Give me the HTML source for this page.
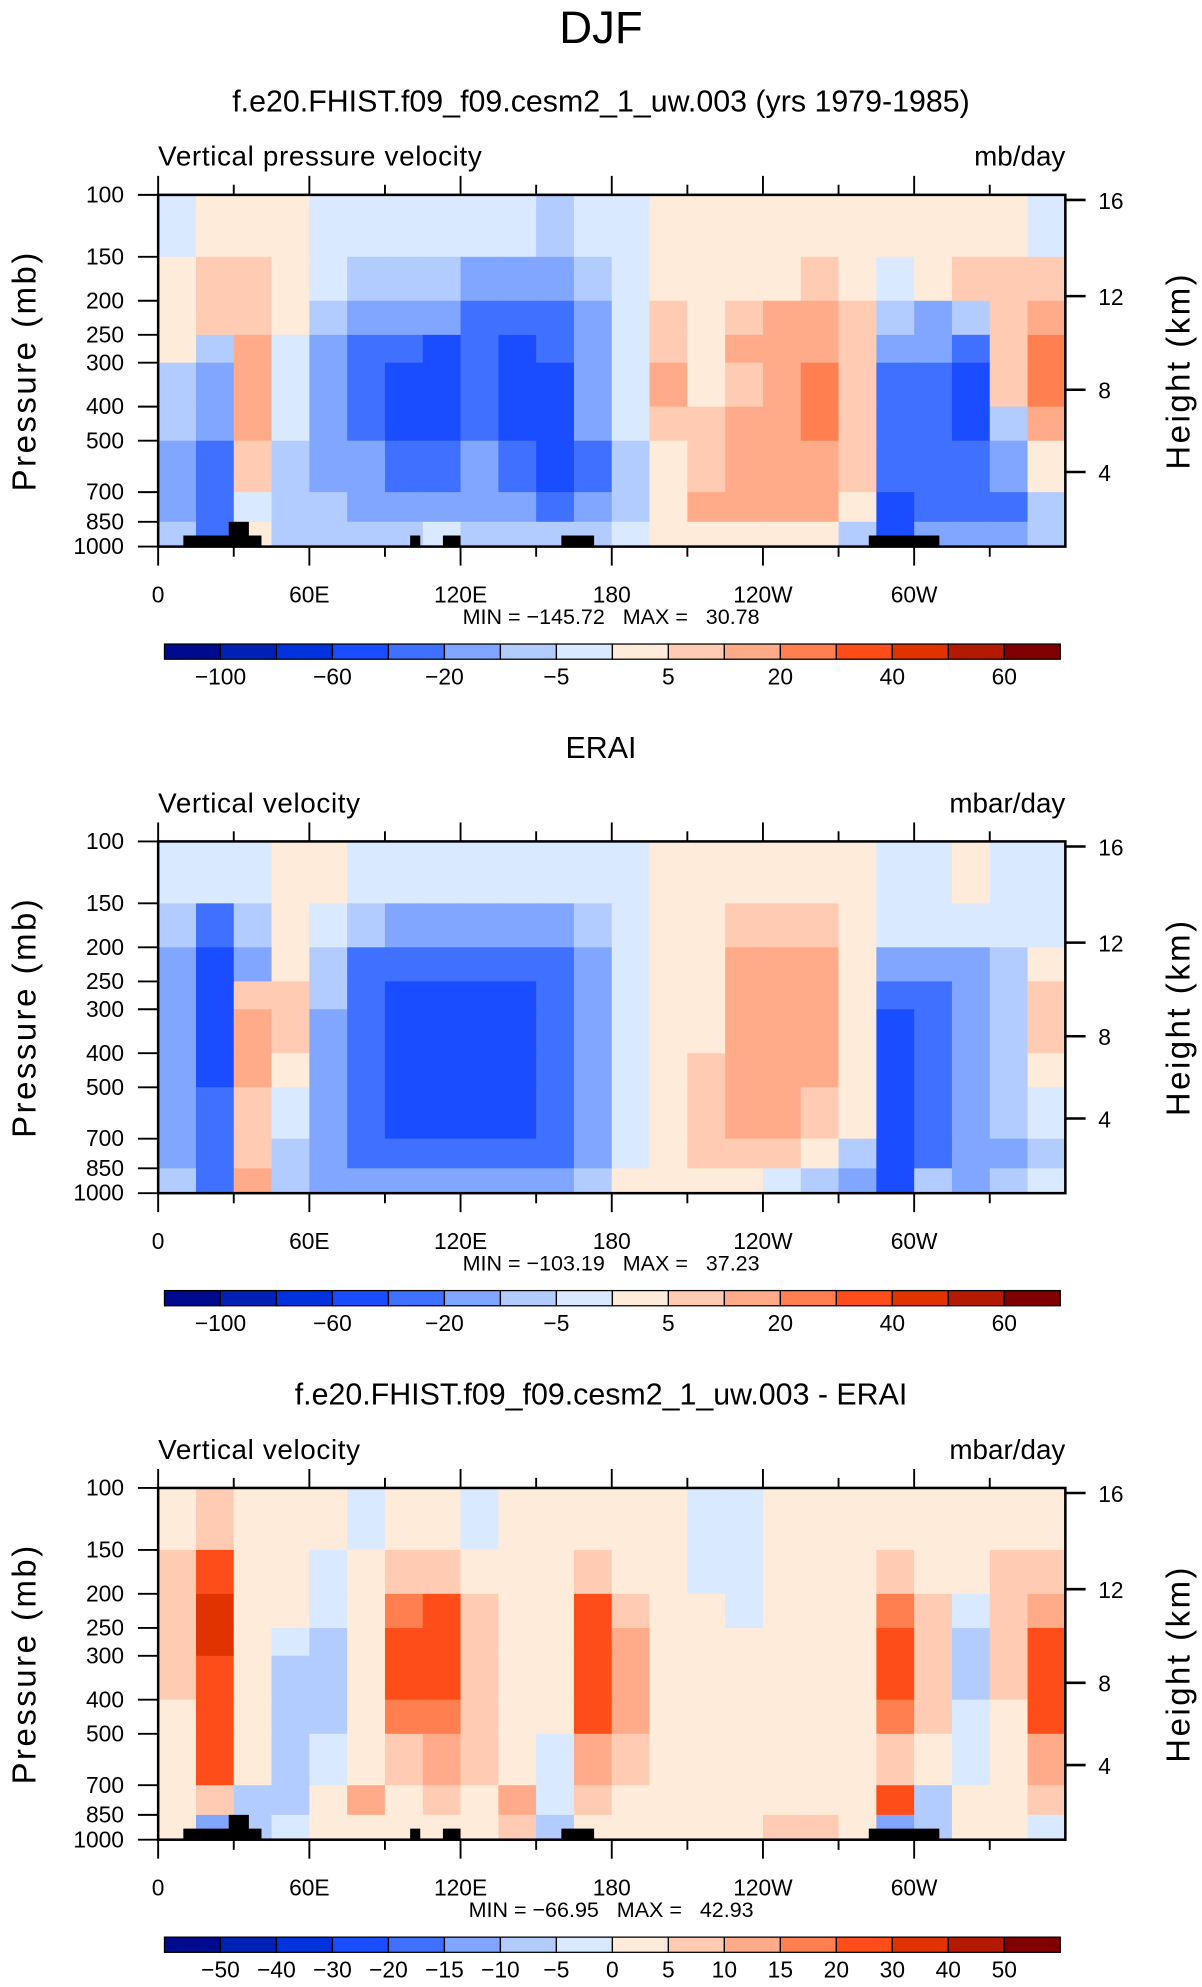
<!DOCTYPE html>
<html><head><meta charset="utf-8"><style>
html,body{margin:0;padding:0;background:#fff}
svg{display:block}
text{font-family:"Liberation Sans",sans-serif;fill:#000}
.pre{white-space:pre}
</style></head><body>
<svg id="fig" xmlns="http://www.w3.org/2000/svg" width="1202" height="1987" viewBox="0 0 950 1570.4">
<text x="475" y="34" font-size="36" text-anchor="middle" font-weight="300">DJF</text>
</svg>
<script>
// ---- data ----
const pressureBands = [100,150,200,250,300,400,500,700,850,1000];
const lonStarts = [0,15,30,45,60,75,90,105,120,135,150,165,180,195,210,225,240,255,270,285,300,315,330,345];
const levels12 = [-100,-80,-60,-40,-20,-10,-5,0,5,10,20,30,40,50,60];
const levels3 = [-50,-40,-30,-20,-15,-10,-5,0,5,10,15,20,30,40,50];
const colorTable = ['#000a8c','#0022b4','#0033dd','#1a4dff','#4070ff','#80a6ff','#b3ccff','#d9e9ff','#ffebd9','#ffccb3','#ffab8a','#ff7f50','#ff4d1a','#e03300','#b31a00','#800000'];
const modelField = [
[-3,3,3,3,-3,-3,-3,-3,-3,-3,-7,-3,-3,3,3,3,3,3,3,3,3,3,3,-3],
[3,7,7,3,-3,-7,-7,-7,-15,-15,-15,-7,-3,3,3,3,3,7,3,-3,3,7,7,7],
[3,7,7,3,-7,-15,-15,-15,-30,-30,-30,-15,-3,7,3,7,15,15,7,-7,-15,-7,7,15],
[3,-7,15,-3,-15,-30,-30,-45,-30,-45,-30,-15,-3,7,3,15,15,15,7,-15,-15,-30,7,25],
[-7,-15,15,-3,-15,-30,-45,-45,-30,-45,-45,-15,-3,15,3,7,15,25,7,-30,-30,-45,7,25],
[-7,-15,15,-3,-15,-30,-45,-45,-30,-45,-45,-15,-3,7,7,15,15,25,7,-30,-30,-45,-7,15],
[-15,-30,7,-7,-15,-15,-30,-30,-15,-30,-45,-30,-7,3,7,15,15,15,7,-30,-30,-30,-15,3],
[-15,-30,-3,-7,-7,-15,-15,-15,-15,-15,-30,-15,-7,3,15,15,15,15,3,-50,-30,-30,-30,-7],
[-7,-30,3,-7,-7,-7,-7,-3,-7,-7,-7,-7,-3,3,3,3,3,3,-7,-50,-15,-15,-15,-7]];
const obsField = [
[-3,-3,-3,3,3,-3,-3,-3,-3,-3,-3,-3,-3,3,3,3,3,3,3,-3,-3,3,-3,-3],
[-7,-30,-7,3,-3,-7,-15,-15,-15,-15,-15,-7,-3,3,3,7,7,7,3,-3,-3,-3,-3,-3],
[-15,-45,-15,3,-7,-30,-30,-30,-30,-30,-30,-15,-3,3,3,15,15,15,3,-15,-15,-15,-7,3],
[-15,-45,7,7,-7,-30,-45,-45,-45,-45,-30,-15,-3,3,3,15,15,15,3,-30,-30,-15,-7,7],
[-15,-45,15,7,-15,-30,-45,-45,-45,-45,-30,-15,-3,3,3,15,15,15,3,-45,-30,-15,-7,7],
[-15,-45,15,3,-15,-30,-45,-45,-45,-45,-30,-15,-3,3,7,15,15,15,3,-45,-30,-15,-7,3],
[-15,-30,7,-3,-15,-30,-45,-45,-45,-45,-30,-15,-3,3,7,15,15,7,3,-45,-30,-15,-7,-3],
[-15,-30,7,-7,-15,-30,-30,-30,-30,-30,-30,-15,-3,3,7,7,7,3,-7,-45,-30,-15,-15,-7],
[-7,-30,15,-7,-15,-15,-15,-15,-15,-15,-15,-7,3,3,3,3,-3,-7,-15,-45,-7,-15,-7,-3]];
const diffField = [
[3,7,3,3,3,-3,3,3,-3,3,3,3,3,3,-3,-3,3,3,3,3,3,3,3,3],
[7,25,3,3,-3,3,7,7,3,3,3,7,3,3,-3,-3,3,3,3,7,3,3,7,7],
[7,35,3,3,-3,3,15,20,7,3,3,20,7,3,3,-3,3,3,3,15,7,-3,7,10],
[7,35,3,-3,-7,3,20,25,7,3,3,25,10,3,3,3,3,3,3,25,7,-7,7,20],
[7,25,3,-7,-7,3,20,20,7,3,3,25,10,3,3,3,3,3,3,20,7,-7,7,25],
[3,25,3,-7,-7,3,15,15,7,3,3,20,10,3,3,3,3,3,3,15,7,-3,3,20],
[3,20,3,-7,-3,3,7,10,7,3,-3,10,7,3,3,3,3,3,3,7,3,-3,3,10],
[3,7,-7,-7,3,10,3,7,3,10,-3,7,3,3,3,3,3,3,3,20,-7,3,3,7],
[3,-15,-7,-3,3,3,3,3,3,7,-7,3,3,3,3,3,7,7,3,-15,-10,3,3,-3]];
const landLon0 = [10,28,100,113,160,282];
const landLon1 = [41,36,104,120,173,310];
const landTopP = [930,850,930,930,930,930];
const heightTicks = [16,12,8,4];
const heightTickY = [158,234,308,373];
const lonTickLabels = ['0','60E','120E','180','120W','60W'];
const presTicks = [100,150,200,250,300,400,500,700,850,1000];
const barLabels12 = ['-100','-60','-20','-5','5','20','40','60'];
const barLabels3 = ['-50','-40','-30','-20','-15','-10','-5','0','5','10','15','20','30','40','50'];
// ---- layout ----
const svg = document.getElementById('fig');
const NS = 'http://www.w3.org/2000/svg';
const L=125, R=842, T0=154, B0=432;
function mk(tag, attrs, parent){const e=document.createElementNS(NS,tag);for(const k in attrs)e.setAttribute(k,attrs[k]);(parent||svg).appendChild(e);return e;}
function xOf(lon){return L+(R-L)*lon/360;}
function yOf(p,off){return B0+off-(B0-T0)*Math.log10(1000/p);}
function colorIdx(v,lv){let i=0;while(i<lv.length&&v>=lv[i])i++;return i;}
function panel(off,title,left,right,field,lv,showLand,minmax,barLabs,barAll,key){
  const g=mk('g',{});
  
  
  const t=mk('text',{x:475,y:88+off,'font-size':24,'text-anchor':'middle'},g);t.textContent=title;
  
  
  const lt=mk('text',{x:125,y:131+off,'font-size':22,'letter-spacing':'0.5'},g);lt.textContent=left;
  
  
  const rt=mk('text',{x:842,y:131+off,'font-size':22,'text-anchor':'end'},g);rt.textContent=right;
  
  
  for(let r=0;r<field.length;r++){
    const y0=yOf(pressureBands[r],off), y1=yOf(pressureBands[r+1],off);
    for(let c=0;c<lonStarts.length;c++){
      const x0=xOf(lonStarts[c]), x1=(c+1<lonStarts.length)?xOf(lonStarts[c+1]):R;
      const cell=mk('rect',{x:x0,y:y0,width:x1-x0+0.6,height:y1-y0+0.6,fill:colorTable[colorIdx(field[r][c],lv)]},g);
      
      
    }
  }
  if(showLand){for(let i=0;i<landLon0.length;i++){
    const yt=yOf(landTopP[i],off);
    const b=mk('rect',{x:xOf(landLon0[i]),y:yt,width:xOf(landLon1[i])-xOf(landLon0[i]),height:B0+off-yt,fill:'#000'},g);
    
    
  }}
  const fr=mk('rect',{x:L,y:T0+off,width:R-L,height:B0-T0,fill:'none',stroke:'#000','stroke-width':2},g);
  
  
  for(let lon=0;lon<360;lon+=30){
    const maj=lon%60===0, len=maj?15:8;
    mk('line',{x1:xOf(lon),x2:xOf(lon),y1:T0+off,y2:T0+off-len,stroke:'#000','stroke-width':1.5},g);
    mk('line',{x1:xOf(lon),x2:xOf(lon),y1:B0+off,y2:B0+off+len,stroke:'#000','stroke-width':1.5},g);
  }
  lonTickLabels.forEach((s,i)=>{const e=mk('text',{x:xOf(i*60),y:476+off,'font-size':18,'text-anchor':'middle'},g);e.textContent=s;
    
    });
  presTicks.forEach(p=>{const y=yOf(p,off);mk('line',{x1:L,x2:L-16,y1:y,y2:y,stroke:'#000','stroke-width':1.5},g);
    const e=mk('text',{x:98,y:y+6,'font-size':18,'text-anchor':'end'},g);e.textContent=p;
    
    });
  heightTicks.forEach((h,i)=>{const y=heightTickY[i]+off;mk('line',{x1:R,x2:R+16,y1:y,y2:y,stroke:'#000','stroke-width':2},g);
    const e=mk('text',{x:868,y:y+7,'font-size':18},g);e.textContent=h;
    
    });
  const py=mk('text',{transform:`translate(28,${293+off}) rotate(-90)`,'font-size':26,'text-anchor':'middle','letter-spacing':'2'},g);py.textContent='Pressure (mb)';
  
  
  const hy=mk('text',{transform:`translate(940,${293+off}) rotate(-90)`,'font-size':26,'text-anchor':'middle','letter-spacing':'2'},g);hy.textContent='Height (km)';
  
  
  const mm=mk('text',{x:483,y:493+off,'font-size':17,'text-anchor':'middle','class':'pre'},g);mm.textContent=minmax;
  
  
  const bx=130,bw=708,n=16,cw=bw/n,by=509+off;
  for(let i=0;i<n;i++){const b=mk('rect',{x:bx+i*cw,y:by,width:cw,height:12,fill:colorTable[i],stroke:'#000','stroke-width':1},g);
    
    }
  barLabs.forEach((s,i)=>{const k=barAll?i+1:2*i+1;const e=mk('text',{x:bx+k*cw,y:541+off,'font-size':18,'text-anchor':'middle'},g);e.textContent=s.replace('-','\u2212');
    
    });
}
panel(0,'f.e20.FHIST.f09_f09.cesm2_1_uw.003 (yrs 1979-1985)','Vertical pressure velocity','mb/day',modelField,levels12,true,'MIN = \u2212145.72   MAX =   30.78',barLabels12,false,'model');
panel(511,'ERAI','Vertical velocity','mbar/day',obsField,levels12,false,'MIN = \u2212103.19   MAX =   37.23',barLabels12,false,'obs');
panel(1022,'f.e20.FHIST.f09_f09.cesm2_1_uw.003 - ERAI','Vertical velocity','mbar/day',diffField,levels3,true,'MIN = \u221266.95   MAX =   42.93',barLabels3,true,'diff');
</script>
</body></html>
